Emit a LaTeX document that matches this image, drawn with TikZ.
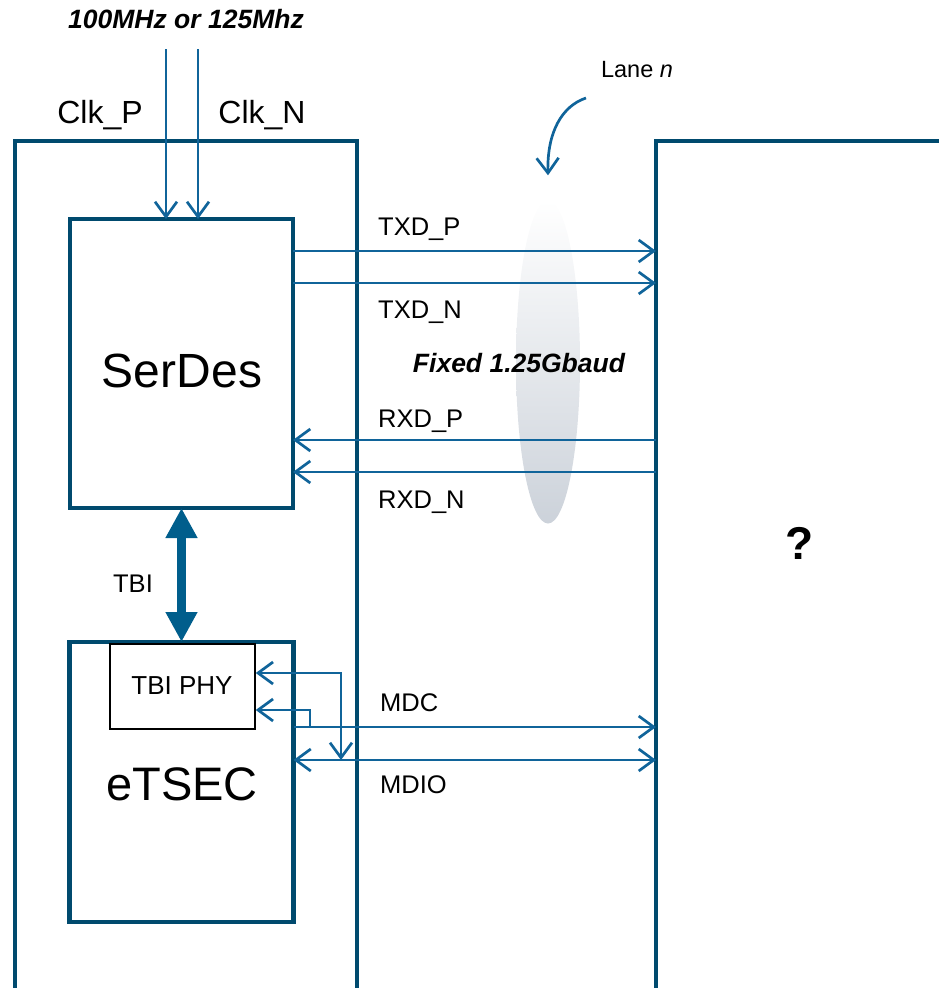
\documentclass[tikz,border=0pt]{standalone}
\usepackage{fontspec}
\setmainfont{Liberation Sans}
\usepackage{xcolor}
\usetikzlibrary{arrows.meta, positioning, shapes.geometric}
\definecolor{chipblue}{HTML}{004A6E}
\definecolor{wireblue}{HTML}{10649A}
\definecolor{busblue}{HTML}{005E8C}
\definecolor{lanemid}{RGB}{198,209,224}
\definecolor{lanebot}{RGB}{204,210,218}
\newcommand{\pxfont}[1]{\fontsize{#1}{#1}\selectfont}

\begin{document}
\begin{tikzpicture}[x=1pt, y=-1pt, >={Straight Barb[length=15pt,width=22pt]},
    chip/.style={draw=chipblue, line width=4.5pt, inner sep=0pt, outer sep=0pt},
    wire/.style={draw=wireblue, line width=2.7pt},
    sig/.style={font=\pxfont{25.5}, anchor=base west, inner sep=0pt}]
    \useasboundingbox (0,0) rectangle (939,988);
    \clip (0,0) rectangle (939,988);

    % Chips
    \node[chip, minimum width=342pt, minimum height=859pt] (lchip) at (186,570.5) {};
    \node[chip, minimum width=304pt, minimum height=859pt] (rchip) at (808,570.5) {};
    \node[font=\bfseries\pxfont{46}, anchor=base, inner sep=0pt] (unknown) at (800,559) {?};

    % Blocks
    \node[chip, minimum width=223pt, minimum height=289pt] (serdes) at (181.5,363.5) {};
    \node[font=\pxfont{48}, anchor=base, inner sep=0pt] at (182,387) {SerDes};
    \node[chip, minimum width=224pt, minimum height=280pt, below=134pt of serdes] (etsec) {};
    \node[font=\pxfont{47}, anchor=base, inner sep=0pt] at (182,800) {eTSEC};
    \node[draw=black, line width=1.5pt, minimum width=145pt, minimum height=85pt, inner sep=0pt, anchor=north] (tbiphy) at (182.5,643) {};
    \node[font=\pxfont{26}, anchor=base, inner sep=0pt] at (182,694) {TBI PHY};

    % TBI bus
    \draw[draw=busblue, line width=9pt, {Triangle[length=30pt,width=30pt]}-{Triangle[length=30pt,width=30pt]}] (serdes.south) -- (etsec.north);
    \node[font=\pxfont{25.5}, anchor=base, inner sep=0pt] at (133,592) {TBI};

    % Clock inputs
    \node[font=\bfseries\itshape\pxfont{26.5}, anchor=base, inner sep=0pt] (refclk) at (186,28) {100MHz or 125Mhz};
    \coordinate (clkpin) at (166,49);
    \coordinate (clknin) at (198,49);
    \draw[wire, ->] (clkpin) -- (clkpin |- serdes.north);
    \draw[wire, ->] (clknin) -- (clknin |- serdes.north);
    \node[font=\pxfont{32}, anchor=base, inner sep=0pt] at (100,123) {Clk\_P};
    \node[font=\pxfont{32}, anchor=base, inner sep=0pt] at (262,123) {Clk\_N};

    % Lane
    \node[ellipse, minimum width=64pt, minimum height=323pt, top color=white, middle color=lanemid, bottom color=lanebot] (lane) at (548,362) {};
    \node[font=\pxfont{23.5}, anchor=base, inner sep=0pt] (lanetag) at (637,77) {Lane \textit{n}};
    \coordinate (lanefrom) at (586,98);
    \draw[wire, ->] (lanefrom) .. controls (562,106) and (547,132) .. ([yshift=25pt]lane.north);
    \node[font=\bfseries\itshape\pxfont{26.5}, anchor=base, inner sep=0pt] at (519,372) {Fixed 1.25Gbaud};

    % Serial lines
    \coordinate (ytxp) at (0,251);
    \coordinate (ytxn) at (0,283);
    \coordinate (yrxp) at (0,440);
    \coordinate (yrxn) at (0,472);
    \draw[wire, ->] (serdes.east |- ytxp) -- (rchip.west |- ytxp);
    \draw[wire, ->] (serdes.east |- ytxn) -- (rchip.west |- ytxn);
    \draw[wire, ->] (rchip.west |- yrxp) -- (serdes.east |- yrxp);
    \draw[wire, ->] (rchip.west |- yrxn) -- (serdes.east |- yrxn);
    \node[sig] at (378,235) {TXD\_P};
    \node[sig] at (378,318) {TXD\_N};
    \node[sig] at (378,427) {RXD\_P};
    \node[sig] at (378,508) {RXD\_N};

    % Management lines
    \coordinate (ymdc) at (0,727);
    \coordinate (ymdio) at (0,760);
    \coordinate (mdctap) at (310,727);
    \coordinate (mdiotap) at (341,760);
    \draw[wire, ->] (etsec.east |- ymdc) -- (rchip.west |- ymdc);
    \draw[wire, <->] (etsec.east |- ymdio) -- (rchip.west |- ymdio);
    \draw[wire, ->] (mdctap) |- (tbiphy.east |- 0,710);
    \draw[wire, <->] (mdiotap) |- (tbiphy.east |- 0,673);
    \node[sig] at (380,711) {MDC};
    \node[sig] at (380,793) {MDIO};

\end{tikzpicture}
\end{document}
